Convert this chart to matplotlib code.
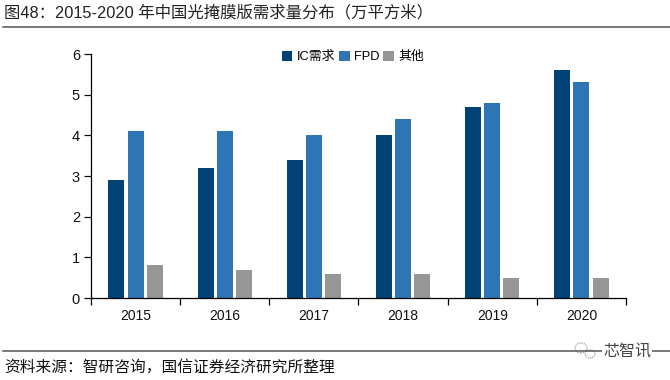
import numpy as np
import matplotlib
matplotlib.use('Agg')
import matplotlib.pyplot as plt
from matplotlib.patches import Ellipse

plt.rcParams['font.family'] = ['Liberation Sans', 'Noto Sans CJK SC', 'DejaVu Sans']

years = ['2015', '2016', '2017', '2018', '2019', '2020']
ic = [2.9, 3.2, 3.4, 4.0, 4.7, 5.6]
fpd = [4.1, 4.1, 4.0, 4.4, 4.8, 5.3]
other = [0.8, 0.7, 0.6, 0.6, 0.5, 0.5]

W, H = 670, 380
fig = plt.figure(figsize=(W / 100, H / 100), dpi=100)
ax = fig.add_axes([91 / W, 1 - 298 / H, (626 - 91) / W, (298 - 54) / H])

x = np.arange(len(years))
width = 0.18
gap = 0.215
ax.bar(x - gap, ic, width, color='#004276', label='IC需求')
ax.bar(x, fpd, width, color='#2E75B6', label='FPD')
ax.bar(x + gap, other, width, color='#969696', label='其他')

ax.set_xlim(-0.5, 5.5)
ax.set_ylim(0, 6)
ax.set_yticks(range(7))
ax.set_xticks(x)
ax.set_xticklabels(years)
ax.set_xticks(np.arange(-0.5, 6), minor=True)
ax.tick_params(axis='x', which='major', length=0, pad=8, labelsize=10, colors='#111111')
ax.tick_params(axis='x', which='minor', length=5, width=0.9, direction='out')
ax.tick_params(axis='y', length=5, width=0.9, labelsize=10.5, pad=3, colors='#111111')
ax.spines['top'].set_visible(False)
ax.spines['right'].set_visible(False)
ax.spines['left'].set_linewidth(0.9)
ax.spines['bottom'].set_linewidth(0.9)

leg = ax.legend(loc='upper left', bbox_to_anchor=(0.345, 1.04), ncol=3, frameon=False,
                fontsize=9.3, handlelength=0.8, handleheight=0.8, handletextpad=0.35,
                columnspacing=0.3, borderpad=0)

fig.text(4 / W, 1 - 13 / H, '图48：2015-2020 年中国光掩膜版需求量分布（万平方米）',
         fontsize=11.8, va='center', color='#222222')
fig.text(4 / W, 1 - 367 / H, '资料来源：智研咨询，国信证券经济研究所整理',
         fontsize=11.3, va='center', color='#111111')
fig.add_artist(plt.Line2D([3 / W, 1], [1 - 27 / H] * 2, color='#555555', lw=1.1))
fig.add_artist(plt.Line2D([3 / W, 1], [1 - 351 / H] * 2, color='#555555', lw=1.1))

# watermark in the lower right corner
fig.text(603 / W, 1 - 351 / H, '芯智讯', fontsize=11.5, va='center', ha='left', color='#444444',
         bbox=dict(facecolor='white', edgecolor='none', pad=0.5))
for cx, cy, rx, ry in [(581, 348, 6, 5), (590, 354, 5, 4)]:
    fig.add_artist(Ellipse((cx / W, 1 - cy / H), 2 * rx / W, 2 * ry / H, transform=fig.transFigure,
                           facecolor='white', edgecolor='#888888', lw=0.8, ls=(0, (1, 1))))

fig.savefig('out.png', dpi=100)
